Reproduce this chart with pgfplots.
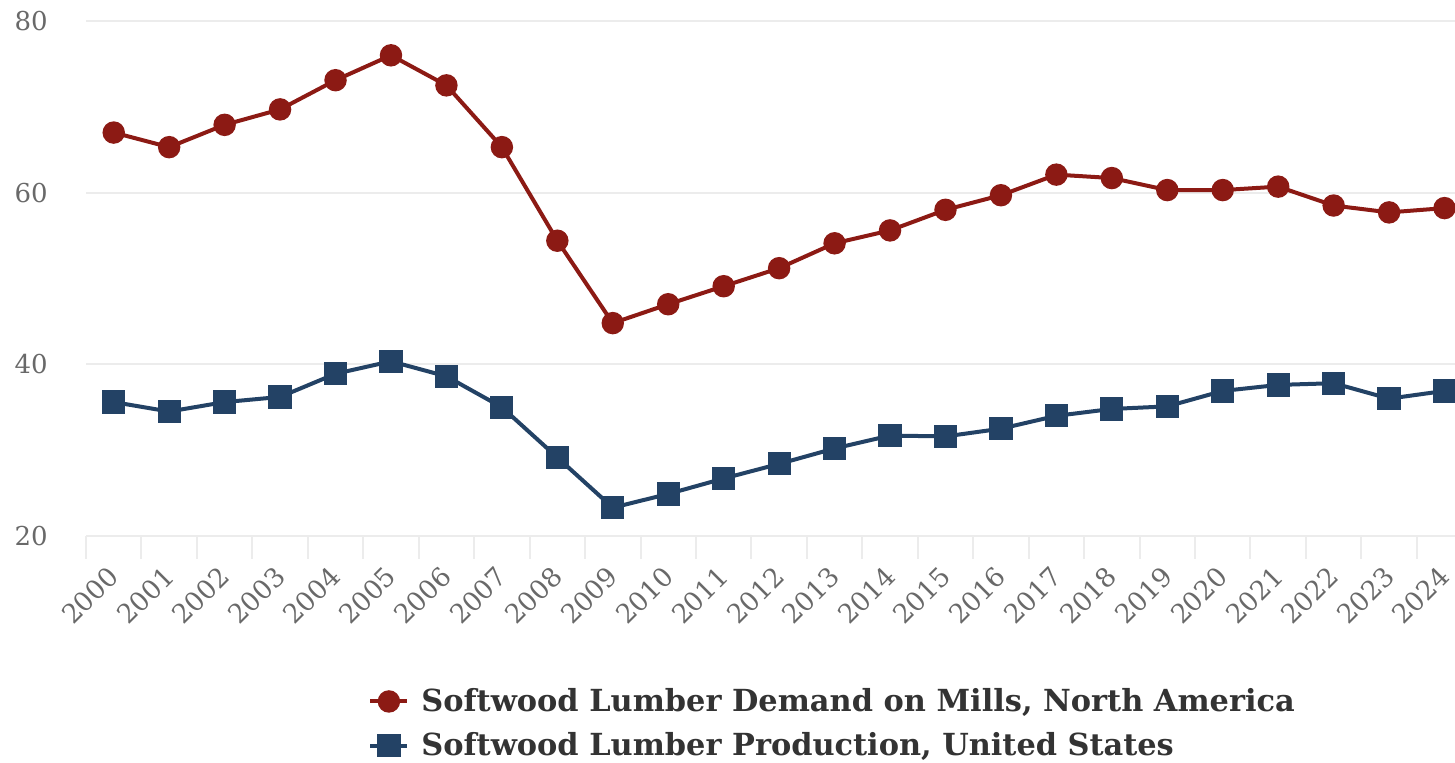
\documentclass[border=0pt]{standalone}
\usepackage{pgfplots}
\pgfplotsset{compat=1.18}
\usepackage{fontspec}
\setmainfont{DejaVu Serif}
\definecolor{demand}{RGB}{140,26,20}
\definecolor{prod}{RGB}{35,66,101}
\definecolor{gridc}{RGB}{236,236,236}
\definecolor{tickc}{RGB}{105,105,105}
\definecolor{legc}{RGB}{51,51,51}
\pgfplotstableread{
x demand prod
0 67.0 35.6
1 65.3 34.5
2 67.9 35.6
3 69.7 36.2
4 73.1 38.9
5 76.0 40.35
6 72.5 38.6
7 65.3 35.0
8 54.4 29.15
9 44.8 23.3
10 47.0 24.9
11 49.1 26.7
12 51.2 28.4
13 54.1 30.2
14 55.6 31.7
15 58.0 31.6
16 59.7 32.5
17 62.1 34.0
18 61.7 34.8
19 60.3 35.1
20 60.3 36.9
21 60.7 37.6
22 58.5 37.8
23 57.7 36.0
24 58.2 36.9
}\datatable
\begin{document}
\begin{tikzpicture}
\begin{axis}[
  at={(43pt,113.5pt)}, anchor=south west,
  x=27.725pt, y=4.29167pt,
  xmin=-0.5, xmax=24.19, ymin=20, ymax=80,
  axis line style={draw=none},
  clip=false,
  ytick={20,40,60,80},
  ymajorgrids,
  grid style={gridc, line width=1pt},
  major tick length=0pt,
  xtick pos=lower, ytick pos=left,
  xtick={0,...,24},
  xticklabels={2000,2001,2002,2003,2004,2005,2006,2007,2008,2009,2010,2011,2012,2013,2014,2015,2016,2017,2018,2019,2020,2021,2022,2023,2024},
  minor xtick={-0.5,0.5,...,23.5},
  minor tick length=11.5pt,
  tick align=outside,
  minor tick style={gridc, line width=1pt},
  xticklabel style={xshift=-3.5pt, rotate=45, anchor=north east, inner sep=0pt, font=\fontsize{13.2}{15}\selectfont, text=tickc},
  xticklabel shift=14pt,
  yticklabel style={anchor=east, inner sep=0pt, xshift=-19pt, font=\fontsize{13}{15}\selectfont, text=tickc},
  /pgf/number format/assume math mode=true,
  legend image code/.code={\draw[mark repeat=2,mark phase=2,#1] plot coordinates {(0pt,0pt) (9.25pt,0pt) (18.5pt,0pt)};},
  legend style={at={(0.206,-0.2874)}, anchor=north west, draw=none, fill=none, inner sep=0pt,
    font=\bfseries\fontsize{15.2}{18}\selectfont, text=legc, row sep=5pt,
    /tikz/every odd column/.append style={column sep=4pt}},
  legend cell align=left,
]
\addplot[demand, line width=2pt, mark=*, mark size=4.6pt, mark options={solid}] table[x=x, y=demand] {\datatable};
\addlegendentry{Softwood Lumber Demand on Mills, North America}
\addplot[prod, line width=2pt, mark=square*, mark size=4.8pt, mark options={solid}] table[x=x, y=prod] {\datatable};
\addlegendentry{Softwood Lumber Production, United States}
\end{axis}
\pgfresetboundingbox
\useasboundingbox (0,0) rectangle (727.5pt,381.5pt);
\end{tikzpicture}
\end{document}
